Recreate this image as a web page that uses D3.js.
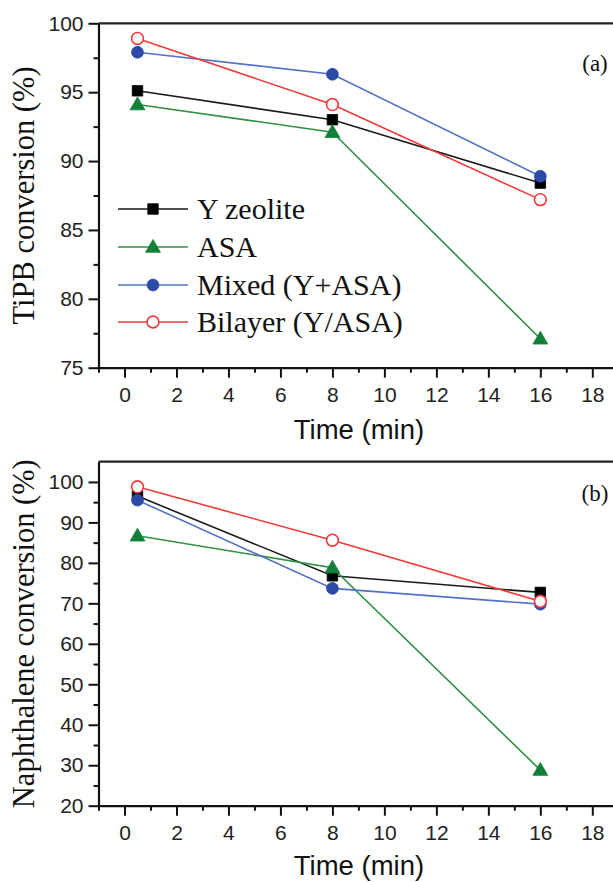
<!DOCTYPE html>
<html>
<head>
<meta charset="utf-8">
<script src="https://cdn.jsdelivr.net/npm/d3@7"></script>
<style>
  html, body { margin: 0; padding: 0; background: #fff; }
  svg { display: block; }
</style>
</head>
<body>
<svg id="chart" width="613" height="882"></svg>
<script>
// ---- Data ----
const times = [0.5, 8, 16];
const seriesNames = ["Y zeolite", "ASA", "Mixed (Y+ASA)", "Bilayer (Y/ASA)"];
const tipbYZeolite = [95.1, 93.0, 88.4];
const tipbASA = [94.1, 92.1, 77.1];
const tipbMixed = [97.9, 96.3, 88.9];
const tipbBilayer = [98.9, 94.1, 87.2];
const naphYZeolite = [96.5, 76.8, 72.7];
const naphASA = [86.7, 78.8, 28.8];
const naphMixed = [95.5, 73.7, 69.8];
const naphBilayer = [98.8, 85.6, 70.5];
const xTicks = [0, 2, 4, 6, 8, 10, 12, 14, 16, 18];
const yTicksA = [75, 80, 85, 90, 95, 100];
const yTicksB = [20, 30, 40, 50, 60, 70, 80, 90, 100];

// ---- Styles ----
const styles = [
  { line: "#1a1a1a", fill: "#000000", stroke: "#000000", shape: "square" },
  { line: "#2e9146", fill: "#13803a", stroke: "#13803a", shape: "triangle" },
  { line: "#5272c8", fill: "#2c4aa6", stroke: "#2c4aa6", shape: "circle" },
  { line: "#f03a3a", fill: "#ffffff", stroke: "#f03a3a", shape: "opencircle" }
];

const svg = d3.select("#chart");
const sansFont = "'Liberation Sans', Arial, sans-serif";
const serifFont = "'Liberation Serif', 'Times New Roman', serif";

function markerPath(shape) {
  if (shape === "square") return d3.symbol(d3.symbolSquare, 110)();
  if (shape === "triangle") return d3.symbol(d3.symbolTriangle, 95)();
  return d3.symbol(d3.symbolCircle, 110)();
}

function drawMarker(g, st, x, y) {
  g.append("path")
    .attr("d", markerPath(st.shape))
    .attr("transform", `translate(${x},${y + (st.shape === "triangle" ? 1 : 0)})`)
    .attr("fill", st.fill)
    .attr("stroke", st.stroke)
    .attr("stroke-width", st.shape === "opencircle" ? 1.6 : 0.8);
}

function panel(opts) {
  const { top, bottom, yDomain, yTicks, yMinor, data, yTitle, label, labelY, titleY } = opts;
  const left = 98.5;
  const x = d3.scaleLinear().domain([-1, 19]).range([left, 618.3]);
  const y = d3.scaleLinear().domain(yDomain).range([bottom, top]);
  const g = svg.append("g");

  // frame: top line
  g.append("line").attr("x1", left).attr("x2", 640).attr("y1", top).attr("y2", top)
    .attr("stroke", "#222").attr("stroke-width", 2.2);

  // minor ticks
  const xMinor = d3.range(-1, 20, 2);
  g.append("g").attr("transform", `translate(0,${bottom})`)
    .call(d3.axisBottom(x).tickValues(xMinor).tickSize(5).tickFormat(""))
    .call(a => a.select(".domain").remove())
    .call(a => a.selectAll("line").attr("stroke", "#111").attr("stroke-width", 2));
  g.append("g").attr("transform", `translate(${left},0)`)
    .call(d3.axisLeft(y).tickValues(yMinor).tickSize(5).tickFormat(""))
    .call(a => a.select(".domain").remove())
    .call(a => a.selectAll("line").attr("stroke", "#111").attr("stroke-width", 2));

  // major axes
  const xa = g.append("g").attr("transform", `translate(0,${bottom})`)
    .call(d3.axisBottom(x).tickValues(xTicks).tickSize(10).tickPadding(9).tickSizeOuter(0));
  xa.select(".domain").attr("stroke", "#111").attr("stroke-width", 2.2);
  xa.selectAll("line").attr("stroke", "#111").attr("stroke-width", 2);
  xa.selectAll("text").attr("font-family", sansFont).attr("font-size", 21).attr("fill", "#222");

  const ya = g.append("g").attr("transform", `translate(${left},0)`)
    .call(d3.axisLeft(y).tickValues(yTicks).tickSize(10).tickPadding(5).tickSizeOuter(0));
  ya.select(".domain").attr("stroke", "#111").attr("stroke-width", 2.2);
  ya.selectAll("line").attr("stroke", "#111").attr("stroke-width", 2);
  ya.selectAll("text").attr("font-family", sansFont).attr("font-size", 21).attr("fill", "#222");

  // series
  const line = d3.line().x((d, i) => x(times[i])).y(d => y(d));
  data.forEach((vals, si) => {
    const st = styles[si];
    g.append("path").datum(vals).attr("d", line)
      .attr("fill", "none").attr("stroke", st.line).attr("stroke-width", 1.6);
  });
  data.forEach((vals, si) => {
    const st = styles[si];
    vals.forEach((v, i) => drawMarker(g, st, x(times[i]), y(v)));
  });

  // x title
  g.append("text").attr("x", 359).attr("y", titleY).attr("text-anchor", "middle")
    .attr("font-family", sansFont).attr("font-size", 27.5).attr("fill", "#111")
    .text("Time (min)");

  // y title
  g.append("text")
    .attr("transform", `translate(34,${(top + bottom) / 2 + opts.yTitleShift}) rotate(-90)`)
    .attr("text-anchor", "middle")
    .attr("font-family", serifFont).attr("font-size", 30.5).attr("fill", "#111")
    .text(yTitle);

  // panel label
  g.append("text").attr("x", 595).attr("y", labelY).attr("text-anchor", "middle")
    .attr("font-family", serifFont).attr("font-size", 23).attr("fill", "#111")
    .text(label);

  return { g, x, y };
}

panel({
  top: 23.3, bottom: 367.7, yDomain: [75, 100], yTicks: yTicksA,
  yMinor: d3.range(77.5, 100, 5),
  data: [tipbYZeolite, tipbASA, tipbMixed, tipbBilayer],
  yTitle: "TiPB conversion (%)", label: "(a)", labelY: 71, titleY: 439, yTitleShift: 0
});

panel({
  top: 461.7, bottom: 805.7, yDomain: [20, 105], yTicks: yTicksB,
  yMinor: d3.range(25, 105, 10),
  data: [naphYZeolite, naphASA, naphMixed, naphBilayer],
  yTitle: "Naphthalene conversion (%)", label: "(b)", labelY: 501, titleY: 875, yTitleShift: 0
});

// ---- Legend (panel a) ----
const legend = svg.append("g");
const rowY = [209, 247, 285, 322];
seriesNames.forEach((name, i) => {
  const st = styles[i];
  legend.append("line").attr("x1", 118).attr("x2", 188).attr("y1", rowY[i]).attr("y2", rowY[i])
    .attr("stroke", st.line).attr("stroke-width", 1.6);
  drawMarker(legend, st, 153, rowY[i]);
  legend.append("text").attr("x", 197).attr("y", rowY[i] + 10)
    .attr("font-family", serifFont).attr("font-size", 30).attr("fill", "#111")
    .text(name);
});
</script>
</body>
</html>
